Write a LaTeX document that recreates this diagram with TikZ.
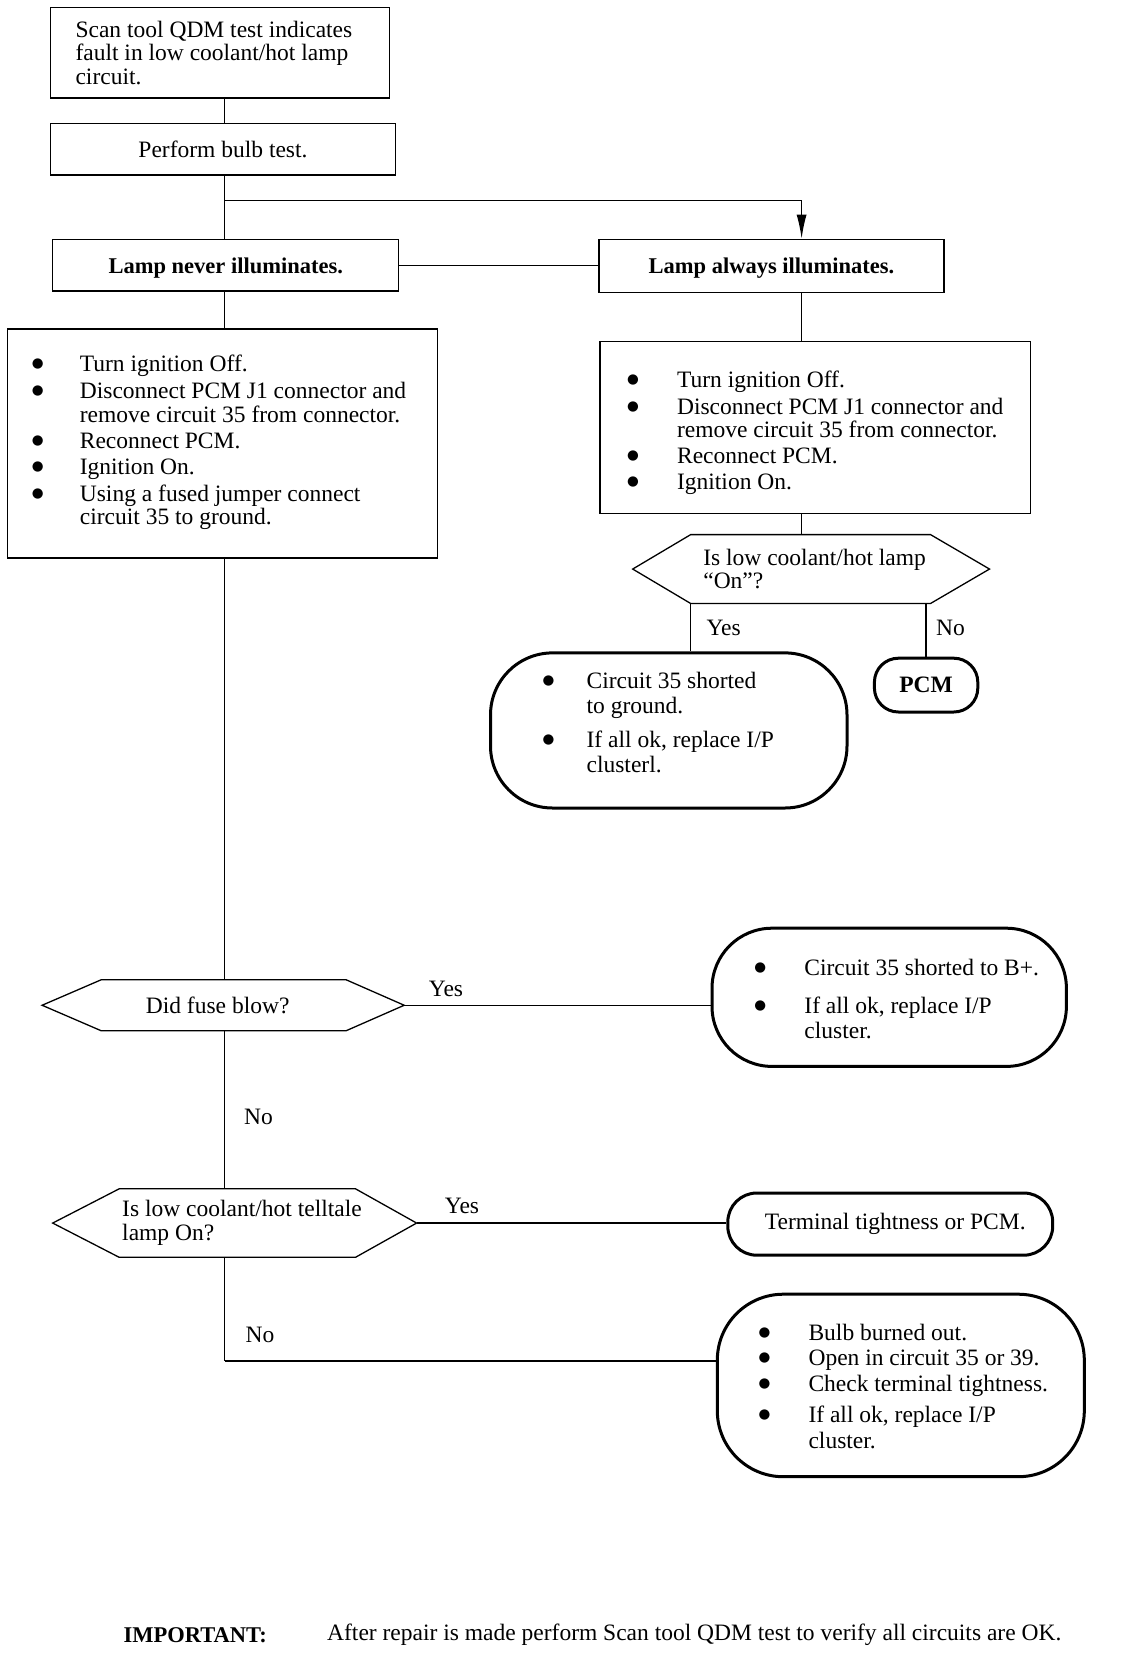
\documentclass[tikz,border=0pt]{standalone}
\usepackage{fontspec}
\usepackage{graphicx}
\setmainfont{Liberation Serif}
\newfontfamily\dejavu{DejaVu Sans}
\usetikzlibrary{arrows.meta,calc}
\newcommand\fsz{\fontsize{23.5}{22.5}\selectfont}
\newcommand\fbd{\fontsize{22.5}{22.5}\selectfont\bfseries}
\newcommand\bt{\raisebox{4pt}{\dejavu\fontsize{13.5}{13.5}\selectfont ●}}
\begin{document}
\begin{tikzpicture}[x=1pt,y=-1pt,
  every node/.style={font=\fsz},
  rectbox/.style={draw,line width=1.4pt,inner sep=0pt,align=left},
  roundbox/.style={draw,line width=3pt,inner sep=0pt,align=left},
  hexin/.style={inner sep=0pt,align=left},
  hexline/.style={line width=1.3pt,line join=miter},
  conn/.style={line width=1.4pt},
  lbl/.style={inner sep=0pt}]
\useasboundingbox[fill=white] (0,0) rectangle (1136,1654);

% rectangular boxes
\node[rectbox,minimum width=338.6pt,minimum height=90.7pt] (b1) at (219.9,52.75)
  {Scan tool QDM test indicates\hspace*{12pt}\\[1pt]fault in low coolant/hot lamp\\[1pt]circuit.};
\node[rectbox,minimum width=344.9pt,minimum height=51.7pt] (b2) at (223,149.25)
  {Perform bulb test.};
\node[rectbox,minimum width=346pt,minimum height=51.7pt,font=\fbd,text depth=0pt] (b3) at (225.7,265.25)
  {Lamp never illuminates.};
\node[rectbox,minimum width=345pt,minimum height=52.8pt,font=\fbd,text depth=0pt] (b4) at (771.5,265.8)
  {Lamp always illuminates.};
\node[rectbox,minimum width=430.3pt,minimum height=229pt] (b5) at (222.55,443.5)
  {\begin{tabular}{@{}p{48pt}@{}l@{}}
   \bt & Turn ignition Off.\\[3.8pt]
   \bt & Disconnect PCM J1 connector and\\
       & remove circuit 35 from connector.\\[3.8pt]
   \bt & Reconnect PCM.\\[3.8pt]
   \bt & Ignition On.\\[3.8pt]
   \bt & Using a fused jumper connect\\
       & circuit 35 to ground.
   \end{tabular}\hspace*{7pt}};
\node[rectbox,minimum width=430.5pt,minimum height=172pt] (b6) at (815.25,427.7)
  {\begin{tabular}{@{}p{50pt}@{}l@{}}
   \noalign{\vskip 12pt}
   \bt & Turn ignition Off.\\[3.8pt]
   \bt & Disconnect PCM J1 connector and\\
       & remove circuit 35 from connector.\\[3.8pt]
   \bt & Reconnect PCM.\\[3.8pt]
   \bt & Ignition On.
   \end{tabular}};

% decision (hexagon) texts
\node[hexin,minimum width=239.4pt,minimum height=68.5pt] (d1) at (810.6,569.05)
  {\hspace*{8pt}Is low coolant/hot lamp\\\hspace*{8pt}“On”?};
\node[hexin,minimum width=244.7pt,minimum height=50.5pt] (d2) at (223.65,1005.25)
  {Did fuse blow?\hspace*{12pt}};
\node[hexin] (d3) at (242,1223.05)
  {Is low coolant/hot telltale\\[1pt]lamp On?};

% hexagon outlines
\draw[hexline] (d1.north west) -- (d1.north east) -- ([xshift=59pt]d1.east) coordinate (d1r)
  -- (d1.south east) -- (d1.south west) -- ([xshift=-58pt]d1.west) coordinate (d1l) -- cycle;
\draw[hexline] (d2.north west) -- (d2.north east) -- ([xshift=58pt]d2.east) coordinate (d2r)
  -- (d2.south east) -- (d2.south west) -- ([xshift=-59pt]d2.west) coordinate (d2l) -- cycle;
\draw[hexline] ([xshift=-122.8pt,yshift=34.25pt]d3.center) coordinate (d3t)
  -- ([xshift=113.5pt,yshift=34.25pt]d3.center)
  -- ([xshift=174.6pt]d3.center) coordinate (d3r)
  -- ([xshift=113.5pt,yshift=-34.25pt]d3.center)
  -- ([xshift=-122.8pt,yshift=-34.25pt]d3.center) coordinate (d3b)
  -- ([xshift=-189.3pt]d3.center) coordinate (d3l) -- cycle;

% rounded result boxes
\node[roundbox,rounded corners=62pt,minimum width=356.5pt,minimum height=155.1pt] (c35) at (668.75,730.45)
  {\begin{tabular}{@{}p{44pt}@{}l@{}}
   \bt & Circuit 35 shorted\\[1.5pt]
       & to ground.\\[11pt]
   \bt & If all ok, replace I/P\\[2.5pt]
       & clusterl.
   \end{tabular}\hspace*{21pt}\\[8pt]};
\node[roundbox,rounded corners=24pt,minimum width=103.4pt,minimum height=53.8pt,font=\fsz\bfseries] (pcm) at (926.1,685.1)
  {PCM};
\node[roundbox,rounded corners=60pt,minimum width=354.4pt,minimum height=138.2pt] (bplus) at (889.2,997.3)
  {\hspace*{15pt}\begin{tabular}{@{}p{50pt}@{}l@{}}
   \noalign{\vskip 10pt}
   \bt & Circuit 35 shorted to B+.\\[14.5pt]
   \bt & If all ok, replace I/P\\[2.8pt]
       & cluster.
   \end{tabular}};
\node[roundbox,rounded corners=29pt,minimum width=324.9pt,minimum height=62.2pt] (term) at (890.25,1224.1)
  {\hspace*{10pt}Terminal tightness or PCM.};
\node[roundbox,rounded corners=66pt,minimum width=367pt,minimum height=182.5pt] (bot) at (900.8,1385.45)
  {\hspace*{5pt}\begin{tabular}{@{}p{50pt}@{}l@{}}
   \noalign{\vskip 8pt}
   \bt & Bulb burned out.\\[2.8pt]
   \bt & Open in circuit 35 or 39.\\[2.8pt]
   \bt & Check terminal tightness.\\[8pt]
   \bt & If all ok, replace I/P\\[2.8pt]
       & cluster.
   \end{tabular}};

% branch labels
\node[lbl] (yes1) at (723.6,627.6) {Yes};
\node[lbl] (no1) at (950.4,627.6) {No};
\node[lbl] (yes2) at (446,989.4) {Yes};
\node[lbl] (no2) at (258.4,1117) {No};
\node[lbl] (yes3) at (462,1205.6) {Yes};
\node[lbl] (no3) at (260,1335.4) {No};

% footer
\node[lbl,anchor=west,font=\fbd] (imp) at (123.4,1635) {IMPORTANT:};
\node[lbl,anchor=west] (impt) at (327,1635) {After repair is made perform Scan tool QDM test to verify all circuits are OK.};

% connectors
\coordinate (trunk) at (224.7,0);
\coordinate (rcol) at (801.6,0);
\coordinate (split) at (224.7,200.4);
\coordinate (nocorner) at (224.7,1360.7);
\draw[conn] (b1.south -| trunk) -- (b2.north -| trunk);
\draw[conn] (b2.south -| trunk) -- (b3.north -| trunk);
\draw[conn,-{Latex[length=24pt,width=10pt]}] (split) -| (b4.north -| rcol);
\draw[conn] (b3.east) -- (b3.east -| b4.west);
\draw[conn] (b3.south -| trunk) -- (b5.north -| trunk);
\draw[conn] (b4.south -| rcol) -- (b6.north -| rcol);
\draw[conn] (b6.south -| rcol) -- (d1.north -| rcol);
\draw[conn] (d1.south west) -- (d1.south west |- c35.north);
\draw[conn] (pcm.north |- d1.south) -- (pcm.north);
\draw[conn] (b5.south -| trunk) -- (d2.north -| trunk);
\draw[conn] (d2r) -- (d2r -| bplus.west);
\draw[conn] (d2.south -| trunk) -- (d3t -| trunk);
\draw[conn] (d3r) -- (d3r -| term.west);
\draw[conn] (d3b -| trunk) -- (nocorner);
\draw[line width=2.4pt] (nocorner) -- (nocorner -| bot.west);
\end{tikzpicture}
\end{document}
